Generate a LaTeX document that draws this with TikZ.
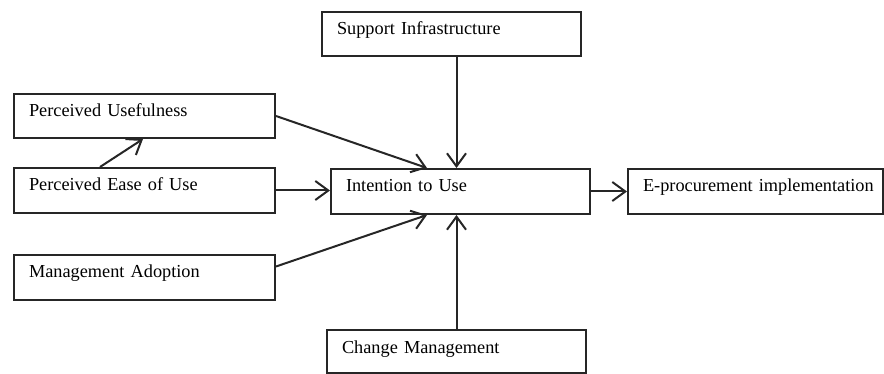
\documentclass[tikz,border=0pt]{standalone}
\usepackage{fontspec}
\setmainfont{Liberation Serif}
\usetikzlibrary{arrows.meta}

\begin{document}
\begin{tikzpicture}[x=1pt,y=-1pt]
%\draw[help lines] (0,0) grid (884,374);
\tikzstyle{v}=[rectangle,draw=black!85,line width=2pt,anchor=north west,inner xsep=15pt,inner ysep=0pt,
  align=left,text height=23pt,font=\fontsize{18.3}{22}\selectfont]
\tikzstyle{a}=[draw=black!85,line width=2pt,-{Straight Barb[length=13pt,width=19pt,line width=2pt]}]
\useasboundingbox (0,0) rectangle (884,374);

\node[v,text width=231pt,text depth=21pt] (pu) at (13,93) {Perceived Usefulness};
\node[v,text width=231pt,text depth=22pt] (peu) at (13,167) {Perceived Ease of Use};
\node[v,text width=231pt,text depth=22pt] (ma) at (13,254) {Management Adoption};

\node[v,text width=229pt,text depth=21pt] (si) at (321,11) {Support Infrastructure};
\node[v,text width=229pt,text depth=22pt] (itu) at (330,168) {Intention to Use};
\node[v,text width=229pt,text depth=20pt] (cm) at (326,329) {Change Management};

\node[v,text width=225pt,text depth=22pt] (ep) at (627,168) {\mbox{E-procurement implementation}};

\path ([xshift=87pt]peu.north west) edge[a] ([xshift=130pt]pu.south west);
\path (pu.east) edge[a] ([xshift=97pt]itu.north west);
\path (peu.east) edge[a] (peu.east -| itu.west);
\path ([yshift=11pt]ma.east) edge[a] ([xshift=97pt]itu.south west);
\path (si.south -| cm.north) edge[a] (cm.north |- itu.north);
\path (cm.north) edge[a] (cm.north |- itu.south);
\path (itu.east) edge[a] (itu.east -| ep.west);
\end{tikzpicture}
\end{document}
